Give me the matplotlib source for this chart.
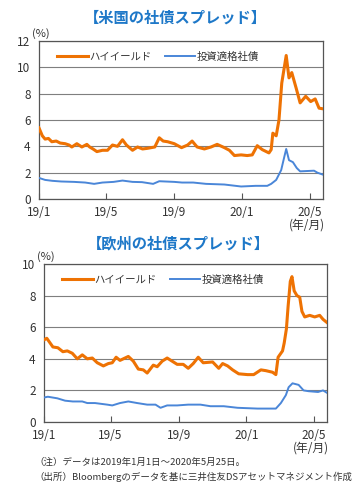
import matplotlib
matplotlib.use('Agg')
import matplotlib.pyplot as plt
import matplotlib.transforms as mtransforms
import pandas as pd

plt.rcParams['font.family'] = ['Noto Sans CJK JP', 'DejaVu Sans']
plt.rcParams['font.size'] = 8.5

# ---- data ----
us_hy_dates = ['2019-01-01', '2019-01-04', '2019-01-07', '2019-01-12', '2019-01-18', '2019-01-24',
               '2019-02-01', '2019-02-08', '2019-02-17', '2019-02-24', '2019-03-01', '2019-03-10',
               '2019-03-19', '2019-03-28', '2019-04-02', '2019-04-08', '2019-04-15', '2019-04-25',
               '2019-05-04', '2019-05-13', '2019-05-22', '2019-05-31', '2019-06-07', '2019-06-18',
               '2019-06-27', '2019-07-06', '2019-07-15', '2019-07-28', '2019-08-05', '2019-08-12',
               '2019-08-20', '2019-09-01', '2019-09-14', '2019-09-25', '2019-10-03', '2019-10-12',
               '2019-10-25', '2019-11-06', '2019-11-17', '2019-11-30', '2019-12-09', '2019-12-18',
               '2019-12-30', '2020-01-10', '2020-01-19', '2020-01-28', '2020-02-06', '2020-02-18',
               '2020-02-22', '2020-02-25', '2020-03-02', '2020-03-07', '2020-03-12', '2020-03-20',
               '2020-03-25', '2020-03-30', '2020-04-07', '2020-04-14', '2020-04-24', '2020-05-03',
               '2020-05-11', '2020-05-18', '2020-05-25']
us_hy = [5.4, 5.1, 4.8, 4.55, 4.6, 4.35,
         4.4, 4.25, 4.2, 4.1, 3.95, 4.2,
         3.95, 4.15, 3.95, 3.8, 3.6, 3.7,
         3.7, 4.1, 4.0, 4.5, 4.1, 3.7,
         3.95, 3.8, 3.85, 3.95, 4.65, 4.4,
         4.35, 4.2, 3.9, 4.1, 4.4, 3.95,
         3.8, 3.95, 4.15, 3.9, 3.7, 3.3,
         3.35, 3.3, 3.35, 4.05, 3.75, 3.5,
         3.75, 5.0, 4.8, 6.0, 8.8, 10.9,
         9.2, 9.6, 8.4, 7.3, 7.8, 7.4,
         7.6, 6.9, 6.85]

us_ig_dates = ['2019-01-01', '2019-01-12', '2019-01-25', '2019-02-10', '2019-03-05', '2019-03-25',
               '2019-04-10', '2019-04-25', '2019-05-15', '2019-05-31', '2019-06-18', '2019-07-05',
               '2019-07-25', '2019-08-05', '2019-09-01', '2019-09-15', '2019-10-05', '2019-10-28',
               '2019-11-30', '2019-12-30', '2020-01-25', '2020-02-15', '2020-02-22', '2020-03-02',
               '2020-03-11', '2020-03-16', '2020-03-20', '2020-03-25', '2020-04-01', '2020-04-08',
               '2020-04-14', '2020-05-09', '2020-05-15', '2020-05-25']
us_ig = [1.6, 1.45, 1.38, 1.33, 1.3, 1.25,
         1.15, 1.25, 1.3, 1.4, 1.3, 1.28,
         1.15, 1.35, 1.3, 1.25, 1.25, 1.15,
         1.1, 0.95, 1.0, 1.0, 1.15, 1.45,
         2.2, 3.1, 3.8, 2.95, 2.8, 2.35,
         2.1, 2.15, 2.0, 1.85]

eu_hy_dates = ['2019-01-01', '2019-01-06', '2019-01-17', '2019-01-26', '2019-02-04', '2019-02-12',
               '2019-02-21', '2019-03-02', '2019-03-11', '2019-03-20', '2019-03-29', '2019-04-07',
               '2019-04-18', '2019-04-27', '2019-05-04', '2019-05-11', '2019-05-18', '2019-06-02',
               '2019-06-11', '2019-06-20', '2019-06-29', '2019-07-06', '2019-07-17', '2019-07-24',
               '2019-08-02', '2019-08-11', '2019-08-20', '2019-08-29', '2019-09-09', '2019-09-18',
               '2019-09-27', '2019-10-06', '2019-10-15', '2019-11-01', '2019-11-12', '2019-11-19',
               '2019-11-28', '2019-12-07', '2019-12-18', '2020-01-03', '2020-01-14', '2020-01-27',
               '2020-02-05', '2020-02-17', '2020-02-23', '2020-02-27', '2020-03-06', '2020-03-09',
               '2020-03-13', '2020-03-16', '2020-03-20', '2020-03-23', '2020-03-27', '2020-04-01',
               '2020-04-06', '2020-04-10', '2020-04-15', '2020-04-24', '2020-05-03', '2020-05-12',
               '2020-05-18', '2020-05-25']
eu_hy = [5.2, 5.3, 4.75, 4.7, 4.45, 4.5,
         4.35, 4.0, 4.25, 4.0, 4.05, 3.75,
         3.55, 3.7, 3.75, 4.1, 3.9, 4.15,
         3.85, 3.35, 3.3, 3.1, 3.6, 3.5,
         3.85, 4.05, 3.85, 3.65, 3.65, 3.4,
         3.7, 4.1, 3.75, 3.8, 3.4, 3.7,
         3.55, 3.3, 3.05, 3.0, 3.0, 3.3,
         3.25, 3.15, 3.0, 4.1, 4.5, 5.0,
         5.9, 7.3, 8.9, 9.2, 8.3, 8.0,
         7.9, 7.0, 6.65, 6.75, 6.65, 6.75,
         6.5, 6.3]

eu_ig_dates = ['2019-01-01', '2019-01-08', '2019-01-25', '2019-02-08', '2019-02-22', '2019-03-11',
               '2019-03-20', '2019-04-03', '2019-04-25', '2019-05-04', '2019-05-18', '2019-06-02',
               '2019-06-18', '2019-07-06', '2019-07-21', '2019-07-30', '2019-08-11', '2019-08-29',
               '2019-09-18', '2019-10-10', '2019-10-28', '2019-11-21', '2019-12-16', '2020-01-21',
               '2020-02-14', '2020-02-23', '2020-03-03', '2020-03-12', '2020-03-17', '2020-03-24',
               '2020-04-04', '2020-04-13', '2020-04-22', '2020-05-09', '2020-05-18', '2020-05-25']
eu_ig = [1.55, 1.6, 1.5, 1.35, 1.3, 1.3,
         1.2, 1.2, 1.1, 1.05, 1.2, 1.3,
         1.2, 1.1, 1.1, 0.9, 1.05, 1.05,
         1.1, 1.1, 1.0, 1.0, 0.9, 0.85,
         0.85, 0.85, 1.2, 1.7, 2.2, 2.45,
         2.35, 2.0, 1.95, 1.9, 2.0, 1.85]

xtick_dates = ['2019-01-01', '2019-05-01', '2019-09-01', '2020-01-01', '2020-05-01']
xtick_labels = ['19/1', '19/5', '19/9', '20/1', '20/5']
legend_labels = ['ハイイールド', '投資適格社債']

ORANGE = '#EE7203'
BLUE = '#4A86D8'
TITLE_BLUE = '#1E78C8'
TXT = '#333333'

fig = plt.figure(figsize=(3.59, 4.91), dpi=100)


def draw_panel(rect, hy_d, hy_v, ig_d, ig_v, ymax):
    ax = fig.add_axes(rect)
    ax.plot(pd.to_datetime(hy_d), hy_v, color=ORANGE, lw=2.2, label=legend_labels[0], zorder=3)
    ax.plot(pd.to_datetime(ig_d), ig_v, color=BLUE, lw=1.4, label=legend_labels[1], zorder=3)
    ax.set_xlim(pd.Timestamp('2019-01-01'), pd.Timestamp('2020-05-25'))
    ax.set_ylim(0, ymax)
    ax.set_yticks(range(0, ymax + 1, 2))
    ax.set_xticks(pd.to_datetime(xtick_dates))
    ax.set_xticklabels(xtick_labels)
    ax.grid(axis='y', color='#7f7f7f', lw=0.8)
    ax.tick_params(axis='y', length=0, colors=TXT, labelsize=8.5, pad=6)
    ax.tick_params(axis='x', direction='in', length=4, colors=TXT, labelsize=8.5, pad=5,
                   color='#555555')
    for s in ax.spines.values():
        s.set_color('#555555')
        s.set_linewidth(0.9)
    leg = ax.legend(loc='center left', bbox_to_anchor=(0.065, 0.9), ncol=2, frameon=False,
                    handlelength=2.9, handletextpad=0.15, columnspacing=1.3, fontsize=7.5,
                    borderaxespad=0, borderpad=0)
    for t in leg.get_texts():
        t.set_color(TXT)
    ax.text(-0.025, 1.015, '(%)', transform=ax.transAxes, fontsize=8, color=TXT,
            ha='left', va='bottom')
    trans = mtransforms.blended_transform_factory(ax.transData, ax.transAxes)
    ax.text(pd.Timestamp('2020-04-27'), -0.125, '(年/月)', transform=trans, fontsize=8.5,
            color=TXT, ha='center', va='top')
    return ax


draw_panel([0.1086, 0.5947, 0.791, 0.3218], us_hy_dates, us_hy, us_ig_dates, us_ig, 12)
draw_panel([0.1226, 0.1405, 0.788, 0.3218], eu_hy_dates, eu_hy, eu_ig_dates, eu_ig, 10)

fig.text(0.488, 0.965, '【米国の社債スプレッド】', ha='center', va='center',
         fontsize=11, fontweight='bold', color=TITLE_BLUE)
fig.text(0.496, 0.505, '【欧州の社債スプレッド】', ha='center', va='center',
         fontsize=11, fontweight='bold', color=TITLE_BLUE)

fig.text(0.097, 0.059, '（注）データは2019年1月1日～2020年5月25日。', ha='left', va='center',
         fontsize=6.8, color=TXT)
fig.text(0.097, 0.028, '（出所）Bloombergのデータを基に三井住友DSアセットマネジメント作成',
         ha='left', va='center', fontsize=6.8, color=TXT)

fig.savefig('out.png', dpi=100)
